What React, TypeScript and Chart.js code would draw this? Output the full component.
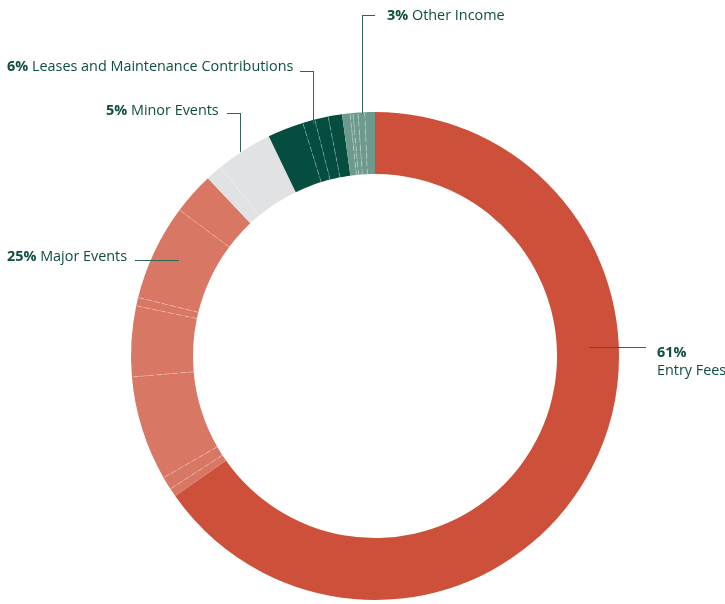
import React, { useEffect, useRef } from "react";
import { Chart, registerables } from "chart.js";

Chart.register(...registerables);

// Income groups (as labelled) and their headline percentages
const groupNames = ["Entry Fees", "Major Events", "Minor Events", "Leases and Maintenance Contributions", "Other Income"];
const groupPercents = ["61%", "25%", "5%", "6%", "3%"];
const groupColors = ["#CC503A", "#D87764", "#E1E2E4", "#044D3F", "#6E9A8E"];

// Individual ring slices (share of the ring), clockwise from 12 o'clock
const sliceGroups = [0, 1, 1, 1, 1, 1, 1, 1, 2, 2, 3, 3, 3, 3, 4, 4, 4, 4, 4];
const sliceValues = [65.28, 0.56, 0.86, 6.94, 4.67, 0.56, 6.36, 2.78, 1.06, 3.78, 2.39, 0.81, 0.89, 0.92, 0.53, 0.19, 0.33, 0.44, 0.67];
const sliceLabels = sliceGroups.map((g, i) => groupNames[g] + " " + (i + 1));

const TEXT = "#0E4D40";
const LEADER = "#2E6658";
const FONT = "'Open Sans', 'Noto Sans', sans-serif";

const separatorPlugin = {
  id: "separators",
  afterDatasetsDraw(chart: any) {
    const meta = chart.getDatasetMeta(0);
    const ctx = chart.ctx;
    ctx.save();
    ctx.lineWidth = 1;
    ctx.setLineDash([5, 3]);
    for (let i = 1; i < meta.data.length; i++) {
      if (sliceGroups[i] !== sliceGroups[i - 1]) continue;
      ctx.strokeStyle = "rgba(255,255,255,0.3)";
      const arc = meta.data[i];
      const p = arc.getProps(["x", "y", "startAngle", "innerRadius", "outerRadius"], true);
      const a = p.startAngle;
      ctx.beginPath();
      ctx.moveTo(p.x + Math.cos(a) * p.innerRadius, p.y + Math.sin(a) * p.innerRadius);
      ctx.lineTo(p.x + Math.cos(a) * p.outerRadius, p.y + Math.sin(a) * p.outerRadius);
      ctx.stroke();
    }
    ctx.restore();
  },
};

const hLine = (left: number, top: number, width: number): React.CSSProperties => ({
  position: "absolute", left, top, width, height: 1.3, background: LEADER,
});
const vLine = (left: number, top: number, height: number): React.CSSProperties => ({
  position: "absolute", left, top, width: 1.3, height, background: LEADER,
});
const textStyle = (left: number, top: number): React.CSSProperties => ({
  position: "absolute", left, top, fontFamily: FONT, fontSize: 14.4, lineHeight: "14px",
  color: TEXT, whiteSpace: "nowrap",
});

export default function App() {
  const ref = useRef<HTMLCanvasElement | null>(null);
  useEffect(() => {
    if (!ref.current) return;
    const chart = new Chart(ref.current, {
      type: "doughnut",
      data: {
        labels: sliceLabels,
        datasets: [
          {
            data: sliceValues,
            backgroundColor: sliceGroups.map((g) => groupColors[g]),
            borderWidth: 0,
          },
        ],
      },
      options: {
        responsive: false,
        animation: false,
        cutout: "74.6%",
        layout: { padding: { left: 131, right: 106, top: 112, bottom: 4 } },
        plugins: { legend: { display: false }, tooltip: { enabled: false } },
      },
      plugins: [separatorPlugin],
    });
    return () => chart.destroy();
  }, []);

  return (
    <div style={{ position: "fixed", left: 0, top: 0, width: 725, height: 604, background: "#fff" }}>
      <canvas ref={ref} width={725} height={604} style={{ position: "absolute", left: 0, top: 0 }} />
      {/* Other Income */}
      <div style={hLine(362, 15, 13)} />
      <div style={vLine(362, 15, 98)} />
      <div style={textStyle(387, 8)}><b>{groupPercents[4]}</b> {groupNames[4]}</div>
      {/* Leases */}
      <div style={hLine(300, 71, 14)} />
      <div style={vLine(313, 71, 53)} />
      <div style={textStyle(7, 59)}><b>{groupPercents[3]}</b> {groupNames[3]}</div>
      {/* Minor Events */}
      <div style={hLine(227, 113, 14)} />
      <div style={vLine(240, 113, 39)} />
      <div style={textStyle(106, 103)}><b>{groupPercents[2]}</b> {groupNames[2]}</div>
      {/* Major Events */}
      <div style={hLine(135, 260, 44)} />
      <div style={textStyle(7, 249)}><b>{groupPercents[1]}</b> {groupNames[1]}</div>
      {/* Entry Fees */}
      <div style={hLine(589, 347, 57)} />
      <div style={{ ...textStyle(657, 343), lineHeight: "18px" }}>
        <b>{groupPercents[0]}</b>
        <br />
        {groupNames[0]}
      </div>
    </div>
  );
}
